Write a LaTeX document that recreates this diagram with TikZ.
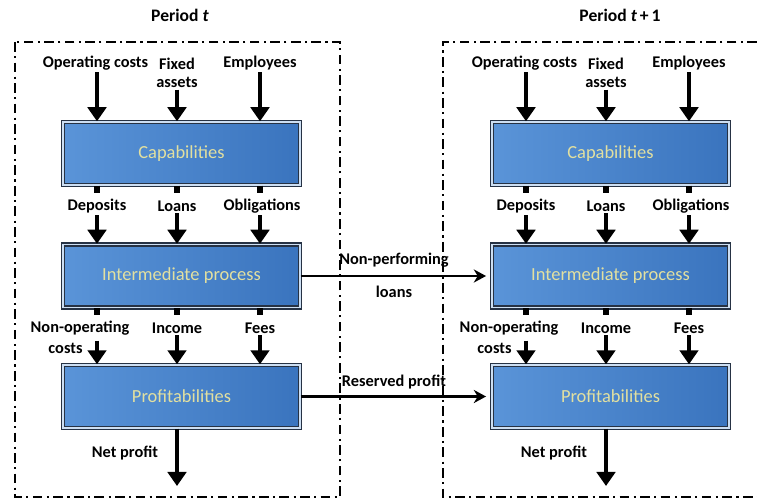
\documentclass[tikz,border=0pt]{standalone}
\usepackage{fontspec}
\setmainfont{Carlito}
\usetikzlibrary{arrows.meta,positioning}
\definecolor{boxlight}{RGB}{90,148,216}
\definecolor{boxdark}{RGB}{58,116,190}
\definecolor{boxtext}{RGB}{226,224,160}
\definecolor{rimdark}{RGB}{38,50,68}
\tikzset{
  stage/.style={rectangle, minimum width=4.74cm, minimum height=1.26cm,
    left color=boxlight, right color=boxdark, draw=rimdark,
    double=white!70!boxlight, double distance=0.7pt, line width=0.8pt,
    text=boxtext, font=\fontsize{10.5}{12}\selectfont},
  lbl/.style={font=\bfseries\fontsize{9.3}{10}\selectfont, align=center, inner sep=1pt},
  title/.style={font=\bfseries\fontsize{10}{12}\selectfont},
  flow/.style={line width=2.6pt, -{Triangle[length=8pt,width=10.5pt]}},
  stub/.style={line width=3pt},
  carry/.style={line width=1.3pt, -{Stealth[length=7pt,width=7.5pt]}, shorten >=3pt},
  period/.style={line width=1.2pt, dash pattern=on 5.5pt off 2.5pt on 1.2pt off 2.5pt},
}
\begin{document}
\begin{tikzpicture}[x=0.02cm, y=-0.02cm]
\useasboundingbox (0,0) rectangle (757,500);

% period frames
\draw[period] (15,42) rectangle (340,497);
\draw[period] (757,42) -- (443,42) -- (443,497) -- (757,497);
\node[title] (ttlL) at (180,15) {Period \textit{t}};
\node[title] (ttlR) at (620,15) {Period \textit{t}\,+\,1};

\foreach \p/\cx in {L/181.5, R/610.5}{
  % arrow columns
  \coordinate (a\p) at ({\cx-84.5},0);
  \coordinate (b\p) at ({\cx-4.5},0);
  \coordinate (c\p) at ({\cx+78.5},0);

  % stages
  \node[stage] (cap\p) at (\cx,153.5) {Capabilities};
  \node[stage] (int\p) at (\cx,276) {Intermediate process};
  \node[stage] (pro\p) at (\cx,396.5) {Profitabilities};

  % inputs
  \node[lbl] (oc\p) at ({\cx-86},63) {Operating costs};
  \node[lbl] (fa\p) at ({\cx-4.5},73) {Fixed\\assets};
  \node[lbl] (em\p) at ({\cx+78.5},63) {Employees};
  \draw[flow] (oc\p.south -| a\p) -- (cap\p.north -| a\p);
  \draw[flow] (fa\p.south -| b\p) -- (cap\p.north -| b\p);
  \draw[flow] (em\p.south -| c\p) -- (cap\p.north -| c\p);

  % capabilities -> intermediate
  \node[lbl] (dep\p) at ({\cx-84.5},206) {Deposits};
  \node[lbl] (loa\p) at ({\cx-4.5},206) {Loans};
  \node[lbl] (obl\p) at ({\cx+80.5},206) {Obligations};
  \foreach \k in {a,b,c}
    \draw[stub] (cap\p.south -| \k\p) -- ++(0,7);
  \draw[flow] (dep\p.south -| a\p) -- (int\p.north -| a\p);
  \draw[flow] (loa\p.south -| b\p) -- (int\p.north -| b\p);
  \draw[flow] (obl\p.south -| c\p) -- (int\p.north -| c\p);

  % intermediate -> profitabilities
  \node[lbl] (nop\p) at ({\cx-101.5},328) {Non-operating};
  \node[lbl] (cst\p) at ({\cx-116},348) {costs};
  \node[lbl] (inc\p) at ({\cx-4.5},328) {Income};
  \node[lbl] (fee\p) at ({\cx+78.5},328) {Fees};
  \foreach \k in {a,b,c}
    \draw[stub] (int\p.south -| \k\p) -- ++(0,7);
  \draw[flow] (cst\p.north -| a\p) -- (pro\p.north -| a\p);
  \draw[flow] (inc\p.south -| b\p) -- (pro\p.north -| b\p);
  \draw[flow] (fee\p.south -| c\p) -- (pro\p.north -| c\p);

  % output
  \coordinate (np\p) at ({\cx-4.5},486);
  \node[lbl] (net\p) at ({\cx-56.5},453) {Net profit};
  \draw[flow] (pro\p.south -| b\p) -- (np\p);
}

% carried over to the next period
\draw[carry] (intL.east) -- (intR.west);
\node[lbl] (npl) at (394,260) {Non-performing};
\node[lbl] (npl2) at (394,292) {loans};
\draw[carry] (proL.east) -- (proR.west);
\node[lbl] (rsv) at (394,382) {Reserved profit};
\end{tikzpicture}
\end{document}
